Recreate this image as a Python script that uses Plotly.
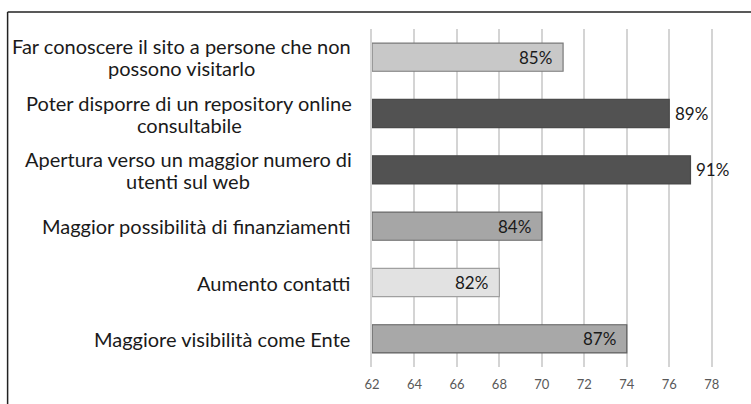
import plotly.graph_objects as go

categories = [
    "Far conoscere il sito a persone che non<br>possono visitarlo",
    "Poter disporre di un repository online<br>consultabile",
    "Apertura verso un maggior numero di<br>utenti sul web",
    "Maggior possibilità di finanziamenti",
    "Aumento contatti",
    "Maggiore visibilità come Ente",
]
values = [71, 76, 77, 70, 68, 74]
labels = ["85%", "89%", "91%", "84%", "82%", "87%"]
label_inside = [True, False, False, True, True, True]
fill_colors = ["#c8c8c8", "#525252", "#525252", "#a6a6a6", "#e2e2e2", "#a8a8a8"]
line_colors = ["#7a7a7a", "#4a4a4a", "#4a4a4a", "#6a6a6a", "#a0a0a0", "#5e5e5e"]
tick_vals = [62, 64, 66, 68, 70, 72, 74, 76, 78]
axis_min = 62

# layout constants (pixels)
W, H = 751, 404
L, R = 371.7, 733.0
T, B = 29, 367
LABEL_RIGHT = 352          # right edge of single-line category labels
BLOCK_CENTRES = [181, 189, 188]  # horizontal centre of wrapped category labels
LINE_H = 22
FONT = "Lato, sans-serif"
x_range = [axis_min, axis_min + (R - L) / 21.25]

pw, ph = R - L, B - T
def px2paper_x(p):
    return (p - L) / pw
def px2paper_y(p):
    return (B - p) / ph

fig = go.Figure()
fig.add_trace(go.Bar(
    y=categories, x=[v - axis_min for v in values], base=axis_min, orientation="h",
    marker=dict(color=fill_colors, line=dict(color=line_colors, width=1.2)),
    width=0.5, hoverinfo="skip",
))

annotations = []
block_i = 0
for c, v, lab, ins in zip(categories, values, labels, label_inside):
    annotations.append(dict(
        x=v, y=c, xref="x", yref="y", text=lab, showarrow=False,
        xanchor="right" if ins else "left", xshift=-9 if ins else 4,
        font=dict(family=FONT, size=17, color="#1a1a1a"),
    ))
    lines = c.split("<br>")
    n = len(lines)
    if n > 1:
        cx = px2paper_x(BLOCK_CENTRES[block_i])
        block_i += 1
        for i, ln in enumerate(lines):
            annotations.append(dict(
                x=cx, y=c, xref="paper", yref="y", text=ln, showarrow=False,
                xanchor="center", yshift=((n - 1) / 2 - i) * LINE_H,
                font=dict(family=FONT, size=20, color="#1a1a1a"),
            ))
    else:
        annotations.append(dict(
            x=px2paper_x(LABEL_RIGHT), y=c, xref="paper", yref="y", text=c,
            showarrow=False, xanchor="right",
            font=dict(family=FONT, size=20, color="#1a1a1a"),
        ))

fig.update_layout(
    width=W, height=H,
    margin=dict(l=L, r=W - R, t=T, b=H - B, pad=0),
    paper_bgcolor="white", plot_bgcolor="white",
    showlegend=False,
    annotations=annotations,
    xaxis=dict(
        range=x_range, tickvals=tick_vals, showgrid=True,
        gridcolor="#d4d4d4", gridwidth=1.5, zeroline=False,
        showline=False, ticks="", ticklen=0, ticklabelstandoff=8,
        tickfont=dict(family=FONT, size=13, color="#595959"),
        fixedrange=True,
    ),
    yaxis=dict(
        categoryorder="array", categoryarray=categories[::-1],
        showticklabels=False, showgrid=False, zeroline=False,
        showline=True, linecolor="#d4d4d4", linewidth=1.5, ticks="",
        fixedrange=True,
    ),
    shapes=[
        dict(type="line", xref="paper", yref="paper",
             x0=px2paper_x(7), x1=px2paper_x(760), y0=px2paper_y(12), y1=px2paper_y(12),
             line=dict(color="#222222", width=1.5)),
        dict(type="line", xref="paper", yref="paper",
             x0=px2paper_x(7), x1=px2paper_x(7), y0=px2paper_y(12), y1=px2paper_y(410),
             line=dict(color="#222222", width=1.5)),
    ],
)
fig.write_html("out.html", config={"displayModeBar": False},
               post_script="document.body.style.margin='0';")
